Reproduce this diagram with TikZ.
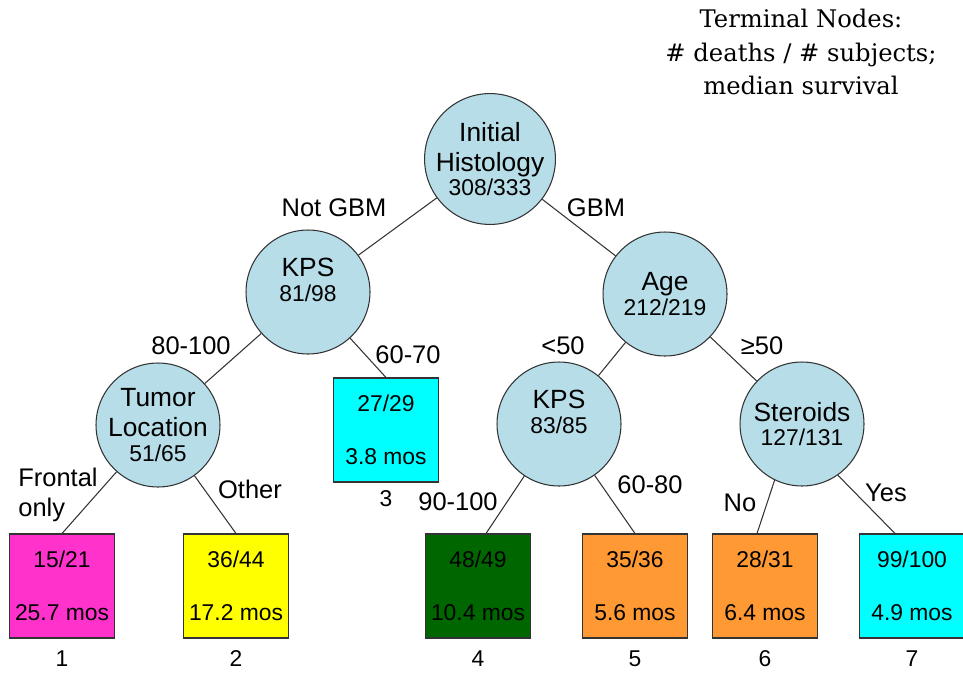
\documentclass[tikz,border=0pt]{standalone}
\usepackage{fontspec}
\setmainfont{Liberation Sans}
\newfontfamily\titlefont{DejaVu Serif}
\usepackage{tikz}
\usetikzlibrary{positioning}

\definecolor{splitfill}{HTML}{B7DEE8}
\definecolor{edgegray}{HTML}{333333}
\definecolor{magentabox}{HTML}{FF33CC}
\definecolor{yellowbox}{HTML}{FFFF00}
\definecolor{greenbox}{HTML}{006600}
\definecolor{orangebox}{HTML}{FF9933}
\definecolor{cyanbox}{HTML}{00FFFF}

\newcommand{\cnt}[1]{{\fontsize{13}{15}\selectfont #1}}

\begin{document}
\begin{tikzpicture}[x=0.02cm,y=-0.02cm,
                    split/.style={circle,draw=edgegray,fill=splitfill,line width=0.6pt,
                                  minimum size=2.48cm,inner sep=0pt,align=center,
                                  font=\fontsize{15}{17}\selectfont},
                    term/.style={rectangle,draw=edgegray,line width=0.6pt,
                                 minimum width=2.1cm,minimum height=2.08cm,inner sep=0pt,
                                 align=center,font=\fontsize{13}{15}\selectfont},
                    lbl/.style={font=\fontsize{14.5}{17}\selectfont,inner sep=0pt},
                    num/.style={font=\fontsize{13}{15}\selectfont,inner sep=0pt},
                    conn/.style={draw=edgegray,line width=0.6pt}]

  \useasboundingbox (0,0) rectangle (963,673);

  % legend
  \node[font=\titlefont\fontsize{13.8}{19.3}\selectfont,align=center] (title) at (801,52)
       {Terminal Nodes:\\\# deaths / \# subjects;\\median survival};

  % splits
  \node[split] (s1) at (490,159) {Initial\\Histology\\[-3pt]\cnt{308/333}};
  \node[split] (s2) at (308,292) {KPS\\[-3pt]\cnt{81/98}\\[-3.4pt]\mbox{}};
  \node[split] (s3) at (665,294) {Age\\[-3pt]\cnt{212/219}};
  \node[split] (s4) at (158,425) {Tumor\\Location\\[-3pt]\cnt{51/65}};
  \node[split] (s5) at (559,424) {KPS\\[-3pt]\cnt{83/85}\\[-3.4pt]\mbox{}};
  \node[split] (s6) at (802,424) {Steroids\\[-3pt]\cnt{127/131}};

  % terminal nodes
  \node[term,fill=magentabox] (t1) at (62,586)  {15/21\\[0.53cm]25.7 mos};
  \node[term,fill=yellowbox]  (t2) at (236,586) {36/44\\[0.53cm]17.2 mos};
  \node[term,fill=cyanbox]    (t3) at (386,430) {27/29\\[0.53cm]3.8 mos};
  \node[term,fill=greenbox]   (t4) at (478,586) {48/49\\[0.53cm]10.4 mos};
  \node[term,fill=orangebox]  (t5) at (635,586) {35/36\\[0.53cm]5.6 mos};
  \node[term,fill=orangebox]  (t6) at (765,586) {28/31\\[0.53cm]6.4 mos};
  \node[term,fill=cyanbox]    (t7) at (912,586) {99/100\\[0.53cm]4.9 mos};

  \node[num] (n1) [below=6.5pt of t1] {1};
  \node[num] (n2) [below=6.5pt of t2] {2};
  \node[num] (n3) [below=4.5pt of t3] {3};
  \node[num] (n4) [below=6.5pt of t4] {4};
  \node[num] (n5) [below=6.5pt of t5] {5};
  \node[num] (n6) [below=6.5pt of t6] {6};
  \node[num] (n7) [below=6.5pt of t7] {7};

  % branches
  \path[conn] (s1) edge (s2)
                   edge (s3)
              (s2) edge (s4)
                   edge (t3.north)
              (s3) edge (s5)
                   edge (s6)
              (s4) edge (t1.north)
                   edge (t2.north)
              (s5) edge ([xshift=0.16cm]t4.north)
                   edge (t5.north)
              (s6.-116) edge ([xshift=-0.16cm]t6.north)
              (s6.-55) edge ([xshift=-0.34cm]t7.north);

  % branch labels
  \node[lbl] (l1) at (334,208) {Not GBM};
  \node[lbl] (l2) at (596,208) {GBM};
  \node[lbl] (l3) at (191,346) {80-100};
  \node[lbl] (l4) at (408,355) {60-70};
  \node[lbl] (l5) at (563,346) {<50};
  \node[lbl] (l6) at (762,346) {≥50};
  \node[lbl,align=left,anchor=west] (l7) at (18,495) {Frontal\\only};
  \node[lbl] (l8) at (250,489) {Other};
  \node[lbl] (l9) at (458,502) {90-100};
  \node[lbl] (l10) at (650,485) {60-80};
  \node[lbl] (l11) at (740,503) {No};
  \node[lbl] (l12) at (886,493) {Yes};
\end{tikzpicture}
\end{document}
